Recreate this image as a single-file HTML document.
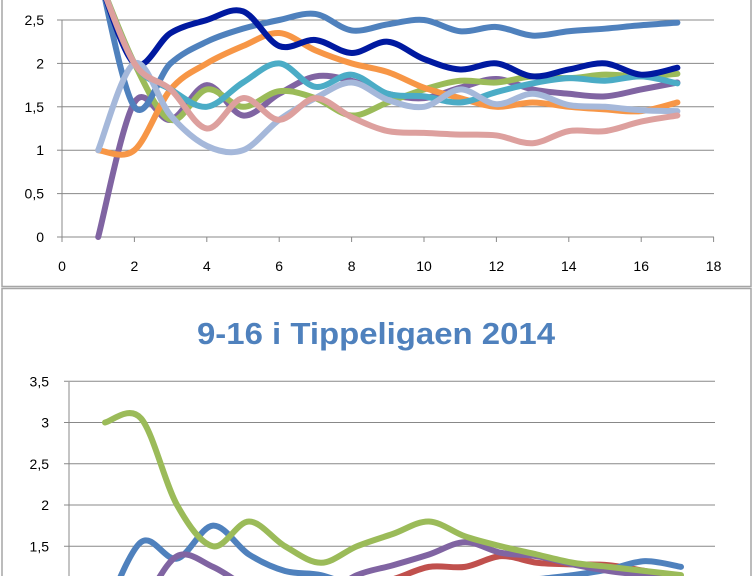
<!DOCTYPE html>
<html><head><meta charset="utf-8"><style>
html,body{margin:0;padding:0;background:#fff;width:753px;height:576px;overflow:hidden;}
svg{display:block;font-family:"Liberation Sans",sans-serif;}
</style></head><body>
<svg id="s" width="753" height="576" viewBox="0 0 753 576" xmlns="http://www.w3.org/2000/svg">
<defs><clipPath id="c"><rect x="0" y="0" width="753" height="576"/></clipPath></defs>
<rect width="753" height="576" fill="#fff"/>
<g stroke="#a6a6a6" stroke-width="1.5" fill="none">
<path d="M2,0 V286.5 H751 V0"/>
<path d="M2,576 V288.5 H751 V576"/>
</g>
<g id="g1" clip-path="url(#c)"></g>
<g id="g2" clip-path="url(#c)"></g>
<text x="376" y="344" text-anchor="middle" font-size="31" font-weight="bold" fill="#4F81BD" textLength="358" lengthAdjust="spacingAndGlyphs">9-16 i Tippeligaen 2014</text>
</svg>
<script>
var NS="http://www.w3.org/2000/svg";
function el(p,t,a,txt){var e=document.createElementNS(NS,t);for(var k in a)e.setAttribute(k,a[k]);if(txt!=null)e.textContent=txt;p.appendChild(e);return e;}
function curve(pts){var d="M"+pts[0][0]+","+pts[0][1];for(var i=0;i<pts.length-1;i++){var p0=pts[i-1]||pts[i],p1=pts[i],p2=pts[i+1],p3=pts[i+2]||p2;var t=0.5/3;
d+=" C"+(p1[0]+(p2[0]-p0[0])*t)+","+(p1[1]+(p2[1]-p0[1])*t)+" "+(p2[0]-(p3[0]-p1[0])*t)+","+(p2[1]-(p3[1]-p1[1])*t)+" "+p2[0]+","+p2[1];}return d;}
var g1=document.getElementById("g1");
var X0=62,XS=36.2,Y0=237,YS=86.8;
for(var i=0;i<=5;i++){var y=Y0-YS*0.5*i;el(g1,"line",{x1:X0,x2:714,y1:y,y2:y,stroke:"#888","stroke-width":1});el(g1,"line",{x1:57,x2:X0,y1:y,y2:y,stroke:"#888"});
el(g1,"text",{x:44,y:y+5,"text-anchor":"end","font-size":14,fill:"#000"},["0","0,5","1","1,5","2","2,5"][i]);}
el(g1,"line",{x1:X0,x2:X0,y1:20,y2:Y0,stroke:"#888"});
for(var i=0;i<=9;i++){var x=X0+XS*2*i;el(g1,"line",{x1:x,x2:x,y1:Y0,y2:242,stroke:"#888"});el(g1,"text",{x:x,y:271,"text-anchor":"middle","font-size":14,fill:"#000"},String(2*i));}
var S1=[
["#8064A2",[0,1.55,1.35,1.75,1.4,1.65,1.85,1.8,1.65,1.6,1.72,1.82,1.7,1.65,1.62,1.7,1.78]],
["#9BBB59",[3,2.0,1.35,1.7,1.5,1.68,1.6,1.4,1.55,1.7,1.8,1.78,1.85,1.83,1.87,1.85,1.88]],
["#F79646",[1,1.0,1.7,2.0,2.2,2.35,2.15,2.0,1.9,1.72,1.6,1.5,1.55,1.5,1.47,1.45,1.55]],
["#4BACC6",[3,2.0,1.7,1.5,1.78,2.0,1.73,1.87,1.65,1.62,1.55,1.67,1.77,1.83,1.8,1.85,1.77]],
["#4F81BD",[3.1,1.5,2.0,2.25,2.4,2.5,2.57,2.38,2.45,2.5,2.37,2.42,2.32,2.37,2.4,2.44,2.47]],
["#0019A0",[3,2.0,2.35,2.5,2.6,2.2,2.27,2.12,2.25,2.05,1.93,2.0,1.85,1.93,2.0,1.87,1.95]],
["#A5B8DA",[1,2.0,1.4,1.05,1.0,1.35,1.6,1.78,1.58,1.5,1.7,1.53,1.65,1.52,1.5,1.46,1.45]],
["#DDA09E",[3,2.0,1.7,1.25,1.6,1.35,1.6,1.38,1.22,1.2,1.18,1.17,1.08,1.22,1.22,1.33,1.4]]];
S1.forEach(function(s){var pts=s[1].map(function(v,i){return[X0+XS*(i+1),Y0-YS*v];});el(g1,"path",{d:curve(pts),fill:"none",stroke:s[0],"stroke-width":6,"stroke-linecap":"round","stroke-linejoin":"round"});});
var g2=document.getElementById("g2");
var X2=69,XS2=36,Y2=670,YS2=82.5;
for(var i=3;i<=7;i++){var y=Y2-YS2*0.5*i;el(g2,"line",{x1:X2,x2:715,y1:y,y2:y,stroke:"#888"});el(g2,"line",{x1:64,x2:X2,y1:y,y2:y,stroke:"#888"});
el(g2,"text",{x:49,y:y+5,"text-anchor":"end","font-size":14,fill:"#000"},["1,5","2","2,5","3","3,5"][i-3]);}
el(g2,"line",{x1:X2,x2:X2,y1:382,y2:576,stroke:"#888"});
var S2=[
["#C0504D",[0.6,0.7,0.8,0.8,0.8,0.85,0.9,1.0,1.1,1.25,1.25,1.38,1.3,1.28,1.27,1.2,1.1]],
["#4F81BD",[0.7,1.55,1.35,1.75,1.4,1.2,1.15,1.0,0.9,0.9,1.0,1.05,1.1,1.15,1.22,1.32,1.25]],
["#8064A2",[0.5,0.8,1.38,1.25,1.0,0.9,0.9,1.15,1.27,1.4,1.55,1.42,1.38,1.28,1.2,1.15,1.1]],
["#9BBB59",[3.0,3.05,2.0,1.5,1.8,1.5,1.3,1.5,1.65,1.8,1.62,1.5,1.4,1.3,1.25,1.2,1.15]]];
S2.forEach(function(s){var pts=s[1].map(function(v,i){return[X2+XS2*(i+1),Y2-YS2*v];});el(g2,"path",{d:curve(pts),fill:"none",stroke:s[0],"stroke-width":6,"stroke-linecap":"round","stroke-linejoin":"round"});});
</script>
</body></html>
